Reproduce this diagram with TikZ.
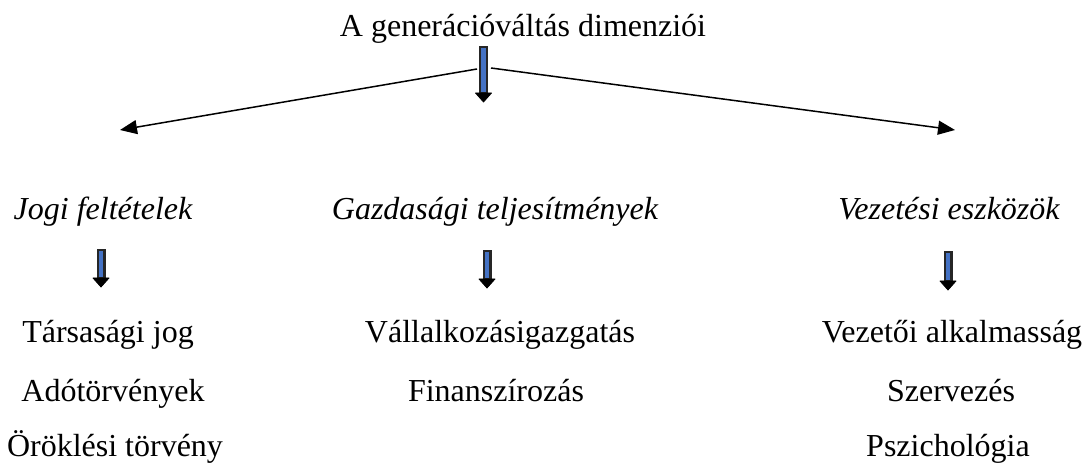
\documentclass[tikz,border=0pt]{standalone}
\usepackage{fontspec}
\setmainfont{Liberation Serif}
\usetikzlibrary{arrows.meta}
\definecolor{shaftblue}{HTML}{4472C4}
\tikzset{
  lbl/.style={anchor=base,inner sep=0pt,font=\fontsize{32}{38}\selectfont},
  ilbl/.style={lbl,font=\fontsize{32}{38}\selectfont\itshape},
  thinarrow/.style={line width=1.5pt,-{Triangle[length=17pt,width=14pt]}},
  shaft/.style={draw=black!85,line width=2.4pt,fill=shaftblue},
  head/.style={fill=black,draw=black,line width=0.8pt,line join=round}
}
% \blkarrow{name}{x}{ytop}{yheadstart}{ytip}
\newcommand{\blkarrow}[5]{%
  \coordinate (#1-top) at (#2,#3);
  \coordinate (#1-tip) at (#2,#5);
  \path[shaft] (#2-3.3,#3) rectangle (#2+3.3,#4);
  \path[head] (#2-8,#4) -- (#2+8,#4) -- (#1-tip) -- cycle;
}
\begin{document}
\begin{tikzpicture}[x=1pt,y=-1pt]
\useasboundingbox (0,0) rectangle (1090,470);
% title
\node[lbl] (title) at (523,37) {A generációváltás dimenziói};
% categories
\node[ilbl] (jogi) at (103,220) {Jogi feltételek};
\node[ilbl] (gazd) at (495,220) {Gazdasági teljesítmények};
\node[ilbl] (vez) at (949,220) {Vezetési eszközök};
% items
\node[lbl] (tars) at (108,342) {Társasági jog};
\node[lbl] (ado) at (113,401) {Adótörvények};
\node[lbl] (orok) at (115,456) {Öröklési törvény};
\node[lbl] (vall) at (500,342) {Vállalkozásigazgatás};
\node[lbl] (fin) at (496,401) {Finanszírozás};
\node[lbl] (vezal) at (952,342) {Vezetői alkalmasság};
\node[lbl] (szerv) at (951,401) {Szervezés};
\node[lbl] (pszi) at (948,456) {Pszichológia};
% branching lines
\coordinate (hubL) at (477,69);
\coordinate (hubR) at (491,68);
\coordinate (endL) at (120,130);
\coordinate (endR) at (955,130);
\draw[thinarrow] (hubL) -- (endL);
\draw[thinarrow] (hubR) -- (endR);
% block arrows
\blkarrow{top}{483.5}{47}{93}{102}
\blkarrow{a1}{101}{250}{278}{287}
\blkarrow{a2}{487}{251}{279}{288}
\blkarrow{a3}{948}{252}{281}{290}
\end{tikzpicture}
\end{document}
